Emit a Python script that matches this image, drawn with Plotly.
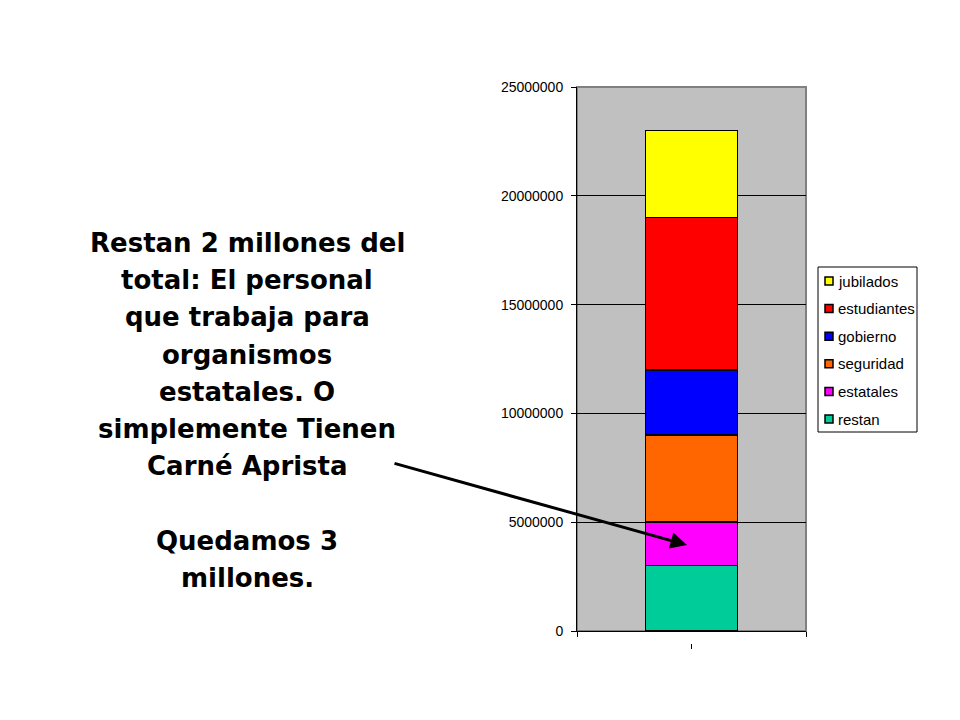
import plotly.graph_objects as go

# stacked from the bottom up
categories = [" "]
series_names = ["restan", "estatales", "seguridad", "gobierno", "estudiantes", "jubilados"]
series_values = [3000000, 2000000, 4000000, 3000000, 7000000, 4000000]
series_colors = ["#00CC99", "#FF00FF", "#FF6600", "#0000FF", "#FF0000", "#FFFF00"]

y_ticks = [0, 5000000, 10000000, 15000000, 20000000, 25000000]

note_lines = [
    "Restan 2 millones del",
    "total: El personal",
    "que trabaja para",
    "organismos",
    "estatales. O",
    "simplemente Tienen",
    "Carné Aprista",
    "",
    "Quedamos 3",
    "millones.",
]

W, H = 960, 720
OFF = 8  # page body margin
L, R, T, B = 577, 806, 87, 631  # plot area in page pixels


def px_x(x):
    return (x - L) / (R - L)


def px_y(y):
    return (B - y) / (B - T)


fig = go.Figure()
for name, val, col in zip(series_names, series_values, series_colors):
    fig.add_trace(
        go.Bar(
            x=categories,
            y=[val],
            name=name,
            marker=dict(color=col, line=dict(color="black", width=1.5)),
            width=0.4,
            showlegend=False,
        )
    )

annotations = []
for i, line in enumerate(note_lines):
    if not line:
        continue
    annotations.append(
        dict(
            text="<b>" + line + "</b>",
            x=px_x(247),
            y=px_y(243 + i * 37.2),
            xref="paper",
            yref="paper",
            xanchor="center",
            yanchor="middle",
            showarrow=False,
            font=dict(family="DejaVu Sans", size=26, color="black"),
        )
    )

# arrow pointing at the "estatales" block
annotations.append(
    dict(
        text="",
        x=px_x(687),
        y=px_y(545),
        xref="paper",
        yref="paper",
        showarrow=True,
        ax=393 - 687,
        ay=463 - 545,
        arrowhead=2,
        arrowsize=1.1,
        arrowwidth=3,
        arrowcolor="black",
    )
)

shapes = [
    dict(
        type="rect",
        xref="paper",
        yref="paper",
        x0=0,
        x1=1,
        y0=0,
        y1=1,
        line=dict(color="#808080", width=2),
        layer="below",
    ),
    dict(
        type="line",
        xref="paper",
        yref="paper",
        x0=0.5,
        x1=0.5,
        y0=px_y(644),
        y1=px_y(649),
        line=dict(color="black", width=1),
    ),
    # legend box
    dict(
        type="rect",
        xref="paper",
        yref="paper",
        x0=px_x(818),
        x1=px_x(917),
        y0=px_y(432),
        y1=px_y(267),
        line=dict(color="black", width=1),
        fillcolor="white",
    ),
]

# legend entries, top to bottom (reverse of stacking order)
for k, (name, col) in enumerate(zip(series_names[::-1], series_colors[::-1])):
    yc = 281 + k * 27.6
    shapes.append(
        dict(
            type="rect",
            xref="paper",
            yref="paper",
            x0=px_x(825),
            x1=px_x(833),
            y0=px_y(yc + 4),
            y1=px_y(yc - 4),
            line=dict(color="black", width=1.5),
            fillcolor=col,
        )
    )
    annotations.append(
        dict(
            text=name,
            x=px_x(836),
            y=px_y(yc),
            xref="paper",
            yref="paper",
            xanchor="left",
            yanchor="middle",
            showarrow=False,
            font=dict(family="Liberation Sans", size=15, color="black"),
        )
    )

fig.update_layout(
    width=W,
    height=H,
    barmode="stack",
    paper_bgcolor="white",
    plot_bgcolor="#C0C0C0",
    margin=dict(l=L - OFF, r=W - R + OFF, t=T - OFF, b=H - B + OFF, pad=0),
    showlegend=False,
    xaxis=dict(
        range=[-0.5, 0.5],
        showgrid=False,
        showline=True,
        linecolor="black",
        linewidth=1,
        ticks="outside",
        tickson="boundaries",
        ticklen=5,
        tickcolor="black",
        showticklabels=False,
        fixedrange=True,
    ),
    yaxis=dict(
        range=[0, 25000000],
        tickvals=y_ticks,
        ticktext=[str(v) for v in y_ticks],
        showgrid=True,
        gridcolor="black",
        gridwidth=1,
        showline=True,
        linecolor="black",
        linewidth=1,
        ticks="outside",
        ticklen=5,
        tickcolor="black",
        ticklabelstandoff=5,
        zeroline=False,
        tickfont=dict(family="Liberation Sans", size=14, color="black"),
    ),
    shapes=shapes,
    annotations=annotations,
)

fig.write_html("out.html")
